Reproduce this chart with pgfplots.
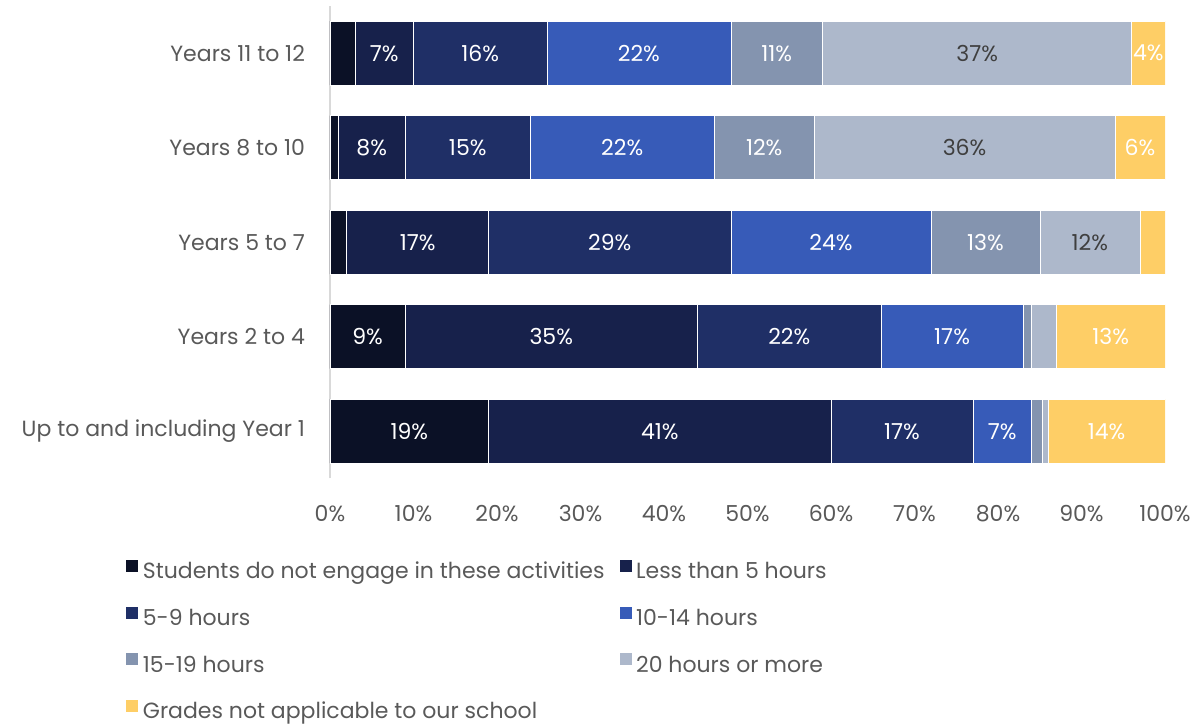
\documentclass[border=0pt]{standalone}
\usepackage{pgfplots}
\pgfplotsset{compat=1.18}
\usepackage{pgfplotstable}
\usepackage{fontspec}
\setmainfont{Poppins}

\definecolor{cNone}{HTML}{0B1126}
\definecolor{cLt5}{HTML}{17214B}
\definecolor{cFive}{HTML}{1F2F66}
\definecolor{cTen}{HTML}{375BB8}
\definecolor{cFifteen}{HTML}{8494AF}
\definecolor{cTwenty}{HTML}{ADB8CB}
\definecolor{cNA}{HTML}{FECE66}
\definecolor{txtgrey}{HTML}{595959}
\definecolor{lblgrey}{HTML}{3F3F3F}

% Share of students (%) by weekly hours; y = 0 is "Up to and including Year 1"
\pgfplotstableread{
y  none lt5 h5to9 h10to14 h15to19 h20plus na
0  19   41  17    7       1.3     0.7     14
1  9    35  22    17      1       3       13
2  2    17  29    24      13      12      3
3  1    8   15    22      12      36      6
4  3    7   16    22      11      37      4
}\hours

\newcommand{\chartfont}{\fontsize{11}{13}\selectfont}

\begin{document}
\begin{tikzpicture}
\begin{axis}[
  name=ax,
  xbar stacked,
  scale only axis,
  width=417.5pt, height=236.25pt,
  xmin=0, xmax=100,
  ymin=-0.5, ymax=4.5,
  bar width=32pt,
  ytick={0,...,4},
  yticklabels={Up to and including Year 1, Years 2 to 4, Years 5 to 7, Years 8 to 10, Years 11 to 12},
  xtick={0,10,...,100},
  xticklabel={\pgfmathprintnumber{\tick}\%},
  /pgf/number format/assume math mode=true,
  tick label style={font=\chartfont, text=txtgrey},
  xticklabel style={yshift=-10pt},
  yticklabel style={xshift=-9pt},
  major tick length=0pt,
  axis x line*=bottom,
  axis y line*=left,
  x axis line style={draw=none},
  y axis line style={draw=black!15, line width=0.8pt, -},
  visualization depends on=rawx \as \rawx,
  nodes near coords={\pgfmathparse{\rawx>=3.95}\ifdim\pgfmathresult pt>0.5pt \pgfmathprintnumber{\rawx}\%\fi},
  every node near coord/.append style={anchor=center, font=\chartfont, text=white},
  legend columns=2,
  legend cell align=left,
  legend style={draw=none, fill=none, at={(-0.2455,-0.1694)}, anchor=north west,
    inner sep=0pt, row sep=11pt, font=\chartfont, text=txtgrey,
    /tikz/every even column/.append style={column sep=5pt},
    nodes={inner xsep=2pt, inner ysep=0pt, text height=9pt, text depth=2.5pt}},
  legend image code/.code={\fill[#1] (0pt,0pt) rectangle (6.5pt,6.5pt);},
]
\addplot[fill=cNone, draw=white, line width=0.25pt] table[x=none, y=y] {\hours};
\addplot[fill=cLt5, draw=white, line width=0.25pt] table[x=lt5, y=y] {\hours};
\addplot[fill=cFive, draw=white, line width=0.25pt] table[x=h5to9, y=y] {\hours};
\addplot[fill=cTen, draw=white, line width=0.25pt] table[x=h10to14, y=y] {\hours};
\addplot[fill=cFifteen, draw=white, line width=0.25pt] table[x=h15to19, y=y] {\hours};
\addplot[fill=cTwenty, draw=white, line width=0.25pt,
  every node near coord/.append style={text=lblgrey}] table[x=h20plus, y=y] {\hours};
\addplot[fill=cNA, draw=white, line width=0.25pt] table[x=na, y=y] {\hours};
\legend{Students do not engage in these activities, Less than 5 hours, 5-9 hours, 10-14 hours, 15-19 hours, 20 hours or more, Grades not applicable to our school}
\end{axis}
\pgfresetboundingbox
\path ([xshift=-165pt,yshift=-123.5pt]ax.south west) rectangle ([xshift=19.5pt,yshift=3pt]ax.north east);
\end{tikzpicture}
\end{document}
